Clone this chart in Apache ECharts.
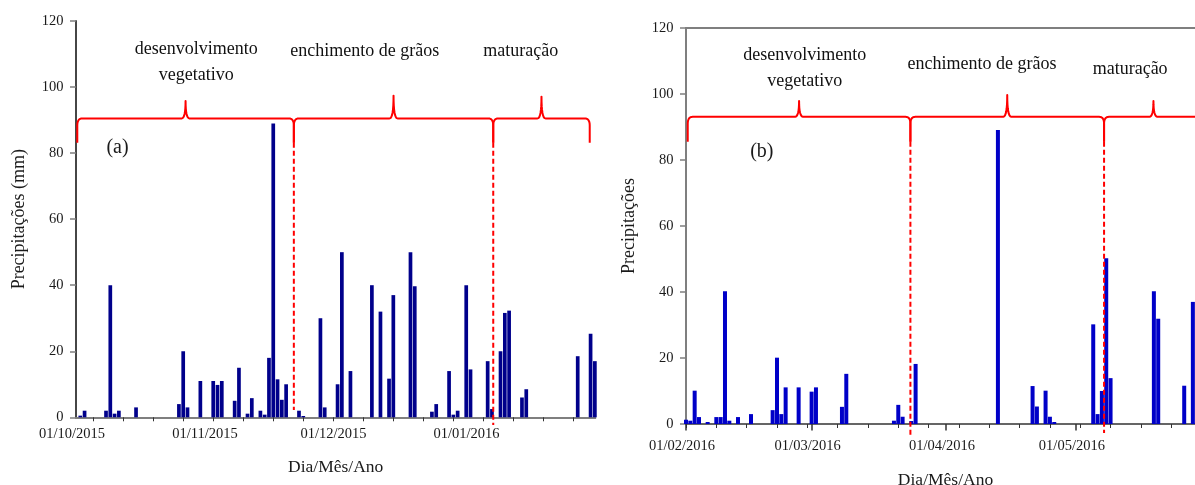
<!DOCTYPE html>
<html><head><meta charset="utf-8">
<script src="https://cdn.jsdelivr.net/npm/echarts@6/dist/echarts.min.js"></script>
<style>html,body{margin:0;padding:0;background:#fff;overflow:hidden}#c{width:1195px;height:485px}</style>
</head><body><div id="c"></div>
<script>
// ---------- DATA ----------
// Panel (a): day index 0 = 01/10/2015
const daysA = [1,2,7,8,9,10,14,24,25,26,29,32,33,34,37,38,40,41,43,44,45,46,47,48,49,52,53,57,58,61,62,64,69,71,73,74,78,79,83,84,87,88,89,91,92,96,97,99,100,101,104,105,117,120,121];
const rainA = [0.5,2,2,40,1.1,2,3,4,20,3,11,11,9.8,11,5,15,1.1,5.8,2,0.8,18,89,11.5,5.3,10,2,0.4,30,3,10,50,14,40,32,11.7,37,50,39.7,1.7,4,14,0.8,2,40,14.5,17,2.5,20,31.6,32.3,6,8.5,18.5,25.3,17];
// Panel (b): day index 0 = 01/02/2016
const daysB = [0,1,2,3,5,7,8,9,10,12,15,20,21,22,23,26,29,30,36,37,48,49,50,52,53,72,80,81,83,84,85,94,95,96,97,98,108,109,115,117];
const rainB = [1.3,1.0,10.1,2.1,0.6,2.1,2.1,40.2,1.0,2.1,3.0,4.2,20.1,3.0,11.1,11.1,9.8,11.1,5.2,15.2,1.0,5.8,2.2,0.9,18.2,89.1,11.5,5.3,10.1,2.2,0.6,30.2,3.0,10.0,50.2,13.9,40.2,31.9,11.6,37.0];

const monthPosA = [0,31,61,92];
const monthLabA = ['01/10/2015','01/11/2015','01/12/2015','01/01/2016'];
const weekTicksA = [4,11,18,25,32,39,46,53,60,67,74,81,88,95,102,109,116];
const monthPosB = [0,29,60,90];
const monthLabB = ['01/02/2016','01/03/2016','01/04/2016','01/05/2016'];
const weekTicksB = [0,7,14,21,28,35,42,49,56,63,70,77,84,91,98,105,112,119];

const stageNames = ['desenvolvimento\nvegetativo','enchimento de grãos','maturação'];
const stageBoundsA = [0.3, 50.8, 97.3, 119.8];
const stageBoundsB = [0.4, 51.8, 96.5, 119.3];
const bracePeaksA = [95.8, 97.4, 97.1];
const bracePeaksB = [97.9, 99.7, 97.9];
const braceLineA = 90.5, braceFootA = 83.1;
const braceLineB = 93.1, braceFootB = 85.5;
const yTicks = [0,20,40,60,80,100,120];

// ---------- LAYOUT ----------
const FONT = '"Liberation Serif", "Times New Roman", serif';
const labelShiftA = [[10.7,-39],[-28.8,-44.3],[-20.7,-45]];
const labelShiftB = [[5.7,-32.7],[-25.3,-30.7],[-23.3,-32]];
const dashEndA = [2.2, -2.3];
const dashEndB = [-3.8, -2.7];

function quad(p0, c, p1, n) {
  const pts = [];
  for (let i = 1; i <= n; i++) {
    const t = i / n, u = 1 - t;
    pts.push([u*u*p0[0] + 2*u*t*c[0] + t*t*p1[0], u*u*p0[1] + 2*u*t*c[1] + t*t*p1[1]]);
  }
  return pts;
}

function braceSeries(bounds, peaks, line, foot, shifts, xi, yi) {
  const data = peaks.map((p, i) => [bounds[i], bounds[i+1], line, p, foot, i]);
  return {
    type: 'custom', xAxisIndex: xi, yAxisIndex: yi, silent: true, z: 5,
    renderItem(params, api) {
      const s = api.value(0), e = api.value(1);
      const a = api.coord([s, api.value(2)]);
      const b = api.coord([e, api.value(2)]);
      const m = api.coord([(s + e) / 2, api.value(3)]);
      const f = api.coord([s, api.value(4)]);
      const x0 = a[0], x1 = b[0], y = a[1], yf = f[1], xm = m[0], yp = m[1];
      let pts = [[x0, yf], [x0, y + 7]];
      pts = pts.concat(quad([x0, y + 7], [x0, y], [x0 + 5, y], 8));
      pts.push([xm - 4, y]);
      pts = pts.concat(quad([xm - 4, y], [xm, y], [xm, yp], 8));
      pts = pts.concat(quad([xm, yp], [xm, y], [xm + 4, y], 8));
      pts.push([x1 - 5, y]);
      pts = pts.concat(quad([x1 - 5, y], [x1, y], [x1, y + 7], 8));
      pts.push([x1, yf]);
      const idx = api.value(5);
      const sh = shifts[idx];
      return {
        type: 'group',
        children: [
          { type: 'polyline', shape: { points: pts },
            style: { fill: 'none', stroke: '#ff0000', lineWidth: 2, lineJoin: 'round' } },
          { type: 'text',
            style: { text: stageNames[idx], x: xm + sh[0], y: yp + sh[1],
              align: 'center', verticalAlign: 'middle', fill: '#111',
              font: '18px ' + FONT, lineHeight: 26 } }
        ]
      };
    },
    data
  };
}

function dashSeries(bounds, foot, ends, xi, yi) {
  const data = [[bounds[1], foot, ends[0]], [bounds[2], foot, ends[1]]];
  return {
    type: 'custom', xAxisIndex: xi, yAxisIndex: yi, silent: true, z: 6,
    renderItem(params, api) {
      const p = api.coord([api.value(0), api.value(1)]);
      const q = api.coord([api.value(0), api.value(2)]);
      return { type: 'line', shape: { x1: p[0], y1: p[1], x2: q[0], y2: q[1] },
        style: { stroke: '#ff0000', lineWidth: 2, lineDash: [5, 3] } };
    },
    data
  };
}

const GRAY = '#7f7f7f', DARK = '#333', TXT = '#1a1a1a';

function bottomAxis(grid, max, ticks, pos, labs, margin, nameGap) {
  return {
    gridIndex: grid, type: 'value', min: 0, max: max, position: 'bottom',
    axisLine: { show: true, lineStyle: { color: DARK, width: 1.5 } },
    axisTick: { show: true, customValues: ticks, length: 4, lineStyle: { color: DARK, width: 1 } },
    axisLabel: { show: true, customValues: pos, formatter: v => labs[pos.indexOf(v)] || '',
      margin: margin, fontSize: 14.5, fontFamily: FONT, color: TXT, padding: [0, 8, 0, 0],
      hideOverlap: false },
    splitLine: { show: false },
    name: 'Dia/Mês/Ano', nameLocation: 'middle', nameGap: nameGap,
    nameTextStyle: { fontSize: 17.5, fontFamily: FONT, color: TXT }
  };
}
function topAxis(grid, max) {
  return { gridIndex: grid, type: 'value', min: 0, max: max, position: 'top',
    axisLine: { show: true, lineStyle: { color: GRAY, width: 2 } },
    axisTick: { show: false }, axisLabel: { show: false }, splitLine: { show: false } };
}
function leftAxis(grid, name) {
  return { gridIndex: grid, type: 'value', min: 0, max: 120, interval: 20, position: 'left',
    axisLine: { show: true, lineStyle: { color: GRAY, width: 2 } },
    axisTick: { show: true, length: 6, lineStyle: { color: GRAY, width: 1.5 } },
    axisLabel: { show: true, margin: 12.5, fontSize: 14.5, fontFamily: FONT, color: TXT,
      formatter: v => yTicks.includes(v) ? String(v) : '' },
    splitLine: { show: false },
    name: name, nameLocation: 'middle', nameGap: 48,
    nameTextStyle: { fontSize: 18, fontFamily: FONT, color: TXT } };
}

const chart = echarts.init(document.getElementById('c'), null, { renderer: 'canvas' });
chart.setOption({
  animation: false,
  backgroundColor: '#fff',
  grid: [
    { left: 76, top: 21, width: 519.3, height: 396.3, outerBoundsMode: 'none', containLabel: false },
    { left: 686, top: 28, width: 519, height: 396, outerBoundsMode: 'none', containLabel: false }
  ],
  xAxis: [
    bottomAxis(0, 121.1, weekTicksA, monthPosA, monthLabA, 9, 41),
    topAxis(0, 121.1),
    bottomAxis(1, 119.8, weekTicksB, monthPosB, monthLabB, 15, 47),
    { gridIndex: 1, type: 'value', min: 0, max: 119.8, position: 'bottom',
      axisLine: { show: false }, axisLabel: { show: false }, splitLine: { show: false },
      axisTick: { show: true, customValues: monthPosB, length: 6.5, lineStyle: { color: DARK, width: 1.5 } } },
    topAxis(1, 119.8)
  ],
  yAxis: [
    leftAxis(0, 'Precipitações (mm)'),
    { gridIndex: 0, type: 'value', min: 0, max: 120, position: 'right',
      axisLine: { show: true, lineStyle: { color: DARK, width: 1.5 } },
      axisTick: { show: false }, axisLabel: { show: false }, splitLine: { show: false } },
    leftAxis(1, 'Precipitações')
  ],
  graphic: [
    { type: 'text', x: 117.5, y: 148, silent: true,
      style: { text: '(a)', align: 'center', verticalAlign: 'middle', fill: TXT, font: '20px ' + FONT } },
    { type: 'text', x: 761.8, y: 151.7, silent: true,
      style: { text: '(b)', align: 'center', verticalAlign: 'middle', fill: TXT, font: '20px ' + FONT } }
  ],
  series: [
    { type: 'bar', xAxisIndex: 0, yAxisIndex: 0, barWidth: 3.7, clip: true,
      itemStyle: { color: '#00008b' }, data: daysA.map((d, i) => [d, rainA[i]]) },
    { type: 'bar', xAxisIndex: 2, yAxisIndex: 2, barWidth: 4, clip: true,
      itemStyle: { color: '#0000c8' }, data: daysB.map((d, i) => [d, rainB[i]]) },
    braceSeries(stageBoundsA, bracePeaksA, braceLineA, braceFootA, labelShiftA, 0, 0),
    braceSeries(stageBoundsB, bracePeaksB, braceLineB, braceFootB, labelShiftB, 2, 2),
    dashSeries(stageBoundsA, braceFootA, dashEndA, 0, 0),
    dashSeries(stageBoundsB, braceFootB, dashEndB, 2, 2)
  ]
});
</script>
</body></html>
